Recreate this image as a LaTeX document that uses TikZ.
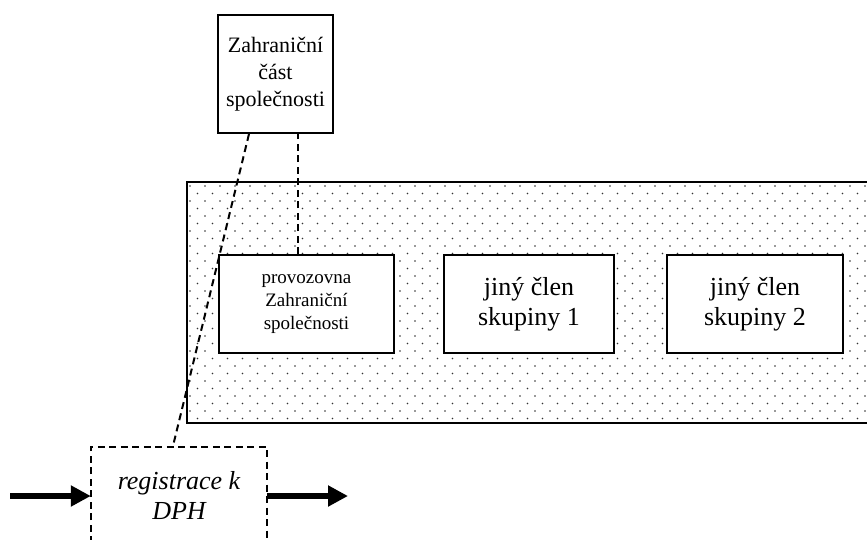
\documentclass[tikz,border=0pt]{standalone}
\usepackage{fontspec}
\setmainfont{Liberation Serif}
\usetikzlibrary{arrows.meta,calc}
\begin{document}
\begin{tikzpicture}[x=1pt,y=-1pt,
  solidbox/.style={draw=black,line width=2pt,fill=white,align=center,inner sep=0pt},
  dashlink/.style={draw=black,line width=2pt,dash pattern=on 7pt off 4.5pt},
  bigarrow/.style={draw=black,line width=6pt,-{Triangle[length=20pt,width=20pt]}},
  dotcol/.style={fill=black!80}]
\useasboundingbox (0,0) rectangle (867,539);
% dotted region
\begin{scope}
\clip (187,182) rectangle (867,423);
\foreach \r in {0,...,31}{
  \pgfmathsetmacro{\yy}{186+7.5*\r}
  \pgfmathsetmacro{\off}{mod(\r,2)*7.5}
  \foreach \c in {0,...,45}{
    \fill[dotcol] ({190+\off+15*\c},\yy) circle (0.9pt);
  }
}
\end{scope}
\draw[line width=2pt] (867,182) -- (187,182) -- (187,423) -- (867,423);
% boxes
\node[solidbox,minimum width=115pt,minimum height=118pt,font=\fontsize{22}{27}\selectfont] (top) at (275.5,74) {Zahraniční\\část\\společnosti};
\node[solidbox,minimum width=175pt,minimum height=98pt,font=\fontsize{19}{23}\selectfont] (prov) at (306.5,304) {provozovna\\Zahraniční\\společnosti};
\node[solidbox,minimum width=170pt,minimum height=98pt,font=\fontsize{26}{30}\selectfont] (g1) at (529,304) {jiný člen\\skupiny 1};
\node[solidbox,minimum width=176pt,minimum height=98pt,font=\fontsize{26}{30}\selectfont] (g2) at (755,304) {jiný člen\\skupiny 2};
% registration box (open at bottom)
\node[align=center,inner sep=0pt,minimum width=176pt,minimum height=96pt,font=\fontsize{26}{30}\selectfont\itshape] (reg) at (179,495) {registrace k\\DPH};
\draw[dashlink] (reg.south west) -- (reg.north west) -- (reg.north east) -- (reg.south east);
% dashed links
\draw[dashlink] ([xshift=32pt]top.south west) -- ([xshift=82pt]reg.north west);
\draw[dashlink] ([xshift=80pt]prov.north west) -- ([xshift=80pt]prov.north west |- top.south);
% arrows
\coordinate (inL) at (10,496);
\coordinate (outR) at (348,496);
\draw[bigarrow] (inL) -- (reg.west |- inL);
\draw[bigarrow] (reg.east |- outR) -- (outR);
\end{tikzpicture}
\end{document}
